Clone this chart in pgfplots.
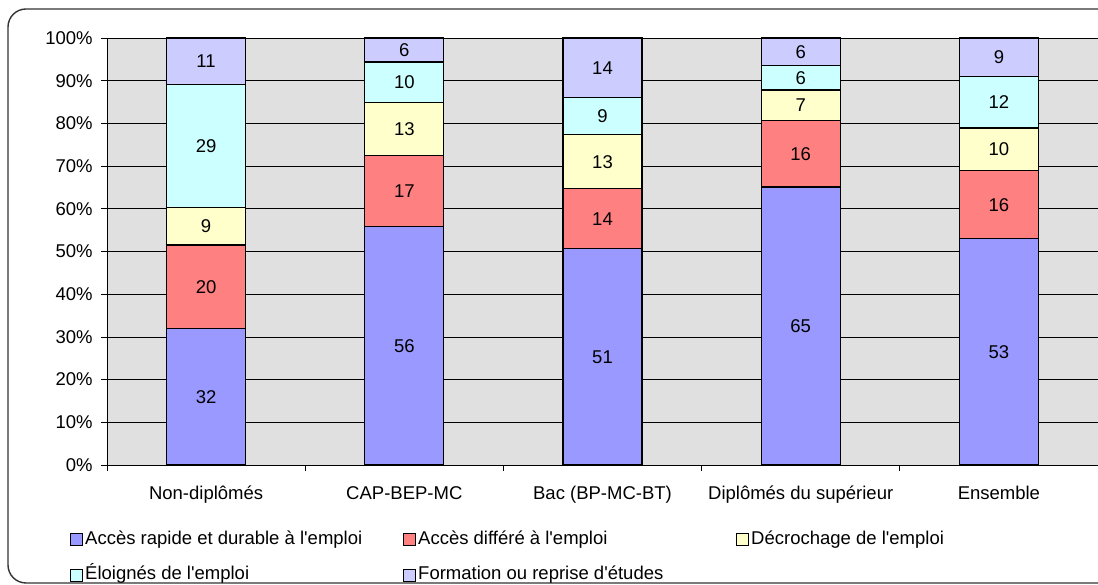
\documentclass[border=0pt]{standalone}
\usepackage{pgfplots}
\pgfplotsset{compat=1.18}
\usepackage{pgfplotstable}
\usepackage{fontspec}
\setmainfont{Liberation Sans}
\definecolor{cA}{HTML}{9999FF}
\definecolor{cB}{HTML}{FF8080}
\definecolor{cC}{HTML}{FFFFCC}
\definecolor{cD}{HTML}{CCFFFF}
\definecolor{cE}{HTML}{CCCCFF}
\definecolor{plotbg}{HTML}{E0E0E0}

\pgfplotstableread{
x a b c d e la lb lc ld le
0 31.9 19.6 8.8 28.9 10.8 32 20 9 29 11
1 55.8 16.6 12.45 9.55 5.6 56 17 13 10 6
2 50.65 14.05 12.65 8.75 13.9 51 14 13 9 14
3 65.1 15.5 7.2 5.8 6.4 65 16 7 6 6
4 53.0 15.9 10.0 12.0 9.1 53 16 10 12 9
}\datatable

\newcommand{\fs}{\fontsize{18.5}{22}\selectfont}
\newcommand{\q}{\textquotesingle}

\begin{document}
\fs
\begin{tikzpicture}[x=1pt,y=1pt]
\clip (0,0) rectangle (1098,585);
\draw[line width=1.4pt, rounded corners=18pt, black!80] (8,2) rectangle (1120,576);
\begin{axis}[
  at={(107pt,120pt)}, anchor=south west,
  scale only axis, width=991pt, height=427pt,
  ybar stacked, bar width=79pt,
  xmin=-0.5, xmax=4.5, ymin=0, ymax=100,
  axis background/.style={fill=plotbg},
  axis x line*=bottom, axis y line*=left,
  axis line style={-, black, line width=0.9pt},
  ymajorgrids, major grid style={black, line width=0.7pt},
  tick align=outside, major tick length=6pt,
  tick style={black, line width=0.7pt},
  ytick={0,10,...,100},
  yticklabel={\pgfmathprintnumber{\tick}\%},
  /pgf/number format/assume math mode=true,
  xtick={-0.5,0.5,1.5,2.5,3.5,4.5},
  xticklabels={,,,,,},
  extra x ticks={0,1,2,3,4},
  extra x tick labels={Non-diplômés,CAP-BEP-MC,Bac (BP-MC-BT),Diplômés du supérieur,Ensemble},
  extra x tick style={major tick length=0pt, grid=none, xticklabel style={yshift=-15pt}},
  tick label style={font=\fs, text=black},
  yticklabel style={xshift=-2pt},
  point meta=explicit symbolic,
  nodes near coords,
  every node near coord/.append style={anchor=center, font=\fs, text=black},
  every axis plot/.append style={draw=black, line width=1.2pt},
  legend columns=3,
  legend style={at={([xshift=-37pt,yshift=-64pt]axis description cs:0,0)}, anchor=north west,
     draw=none, fill=none, font=\fs, inner xsep=0pt, inner ysep=0pt,
     nodes={inner sep=2pt, text height=13pt, text depth=4pt},
     row sep=14.5pt, column sep=0pt},
  legend cell align=left,
  legend image code/.code={\draw[#1, draw=black, line width=1pt] (0pt,-6pt) rectangle (12pt,6pt);},
]
\addplot[fill=cA] table[x=x, y=a, meta=la] {\datatable};
\addlegendentry{\makebox[316pt][l]{Accès rapide et durable à l\q emploi}}
\addplot[fill=cB] table[x=x, y=b, meta=lb] {\datatable};
\addlegendentry{\makebox[316pt][l]{Accès différé à l\q emploi}}
\addplot[fill=cC] table[x=x, y=c, meta=lc] {\datatable};
\addlegendentry{Décrochage de l\q emploi}
\addplot[fill=cD] table[x=x, y=d, meta=ld] {\datatable};
\addlegendentry{\makebox[316pt][l]{Éloignés de l\q emploi}}
\addplot[fill=cE] table[x=x, y=e, meta=le] {\datatable};
\addlegendentry{\makebox[316pt][l]{Formation ou reprise d\q études}}
\end{axis}
\end{tikzpicture}
\end{document}
